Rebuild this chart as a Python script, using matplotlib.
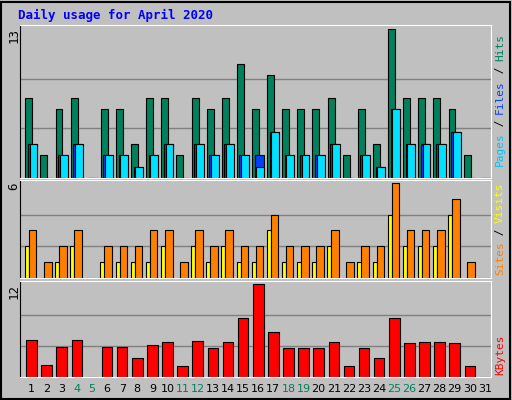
import matplotlib.pyplot as plt
import numpy as np

days = list(range(1, 32))
weekend = [4, 5, 11, 12, 18, 19, 25, 26]

hits = [7, 2, 6, 7, 0, 6, 6, 3, 7, 7, 2, 7, 6, 7, 10, 6, 9, 6, 6, 6, 7, 2, 6, 3, 13, 7, 7, 7, 6, 2, 0]
files = [3, 0, 2, 3, 0, 2, 2, 1, 2, 3, 0, 3, 2, 3, 2, 1, 4, 2, 2, 2, 3, 0, 2, 1, 6, 3, 3, 3, 4, 0, 0]
pages = [3, 0, 2, 3, 0, 2, 2, 1, 2, 3, 0, 3, 2, 3, 2, 2, 4, 2, 2, 2, 3, 0, 2, 1, 6, 3, 3, 3, 4, 0, 0]
visits = [3, 1, 2, 3, 0, 2, 2, 2, 3, 3, 1, 3, 2, 3, 2, 2, 4, 2, 2, 2, 3, 1, 2, 2, 6, 3, 3, 3, 5, 1, 0]
sites = [2, 0, 1, 2, 0, 1, 1, 1, 1, 2, 0, 2, 1, 2, 1, 1, 3, 1, 1, 1, 2, 0, 1, 1, 4, 2, 2, 2, 4, 0, 0]
kbytes = [4.75, 1.6, 3.8, 4.75, 0, 3.8, 3.8, 2.5, 4.1, 4.5, 1.45, 4.6, 3.7, 4.5, 7.65, 12, 5.8,
          3.7, 3.7, 3.7, 4.5, 1.45, 3.7, 2.4, 7.65, 4.35, 4.5, 4.5, 4.35, 1.45, 0]

W, H = 512, 400
fig = plt.figure(figsize=(W / 100, H / 100), dpi=100)
fig.patch.set_facecolor('#c0c0c0')
mono = 'DejaVu Sans Mono'
x = np.array(days)


def panel(top, bottom, ymax):
    ax = fig.add_axes([20 / W, 1 - bottom / H, 471 / W, (bottom - top) / H])
    ax.set_facecolor('#c0c0c0')
    ax.set_xlim(0.14, 31.3)
    ax.set_ylim(0, ymax * 1.03)
    ax.set_xticks([])
    ax.set_yticks([])
    for s in ax.spines.values():
        s.set_color('white')
    ax.spines['left'].set_color('black')
    for g in (ymax / 3, ymax * 2 / 3):
        ax.axhline(g, color='#808080', lw=1, zorder=0)
    fig.text(14 / W, 1 - (top + 3) / H, str(ymax), rotation=90,
             ha='center', va='top', fontsize=9, family=mono)
    return ax


def side_label(pieces, y_start):
    # pieces: (text, colour); drawn upward from y_start (pixels from top)
    pos = 0
    step = 6.6
    for txt, col in pieces:
        c = pos + len(txt) / 2
        fig.text(500 / W, 1 - (y_start - c * step) / H, txt, rotation=90, ha='center',
                 va='center', color=col, fontsize=8, family=mono)
        pos += len(txt)


ek = dict(edgecolor='black', linewidth=0.8)

ax1 = panel(25, 178, 13)
ax1.bar(x - 0.28, hits, 0.46, color='#00805c', **ek)
ax1.bar(x - 0.04, pages, 0.6, color='#0040ff', **ek)
ax1.bar(x + 0.03, files, 0.52, color='#00e0ff', **ek)
side_label([('Pages', '#00c0ff'), (' / ', 'black'), ('Files', '#0040ff'),
            (' / ', 'black'), ('Hits', '#00805c')], 166)

ax2 = panel(180, 278, 6)
ax2.bar(x - 0.4, sites, 0.27, color='#ffff00', **ek)
ax2.bar(x - 0.02, visits, 0.5, color='#ff8000', **ek)
side_label([('Sites', '#ff8000'), (' / ', 'black'), ('Visits', '#ffff00')], 275)

ax3 = panel(281, 377, 12)
ax3.bar(x - 0.1, kbytes, 0.7, color='#ff0000', **ek)
side_label([('KBytes', '#ff0000')], 375)
for d in days:
    ax3.text(d - 0.1, -0.12, str(d), transform=ax3.get_xaxis_transform(), ha='center',
             va='center', fontsize=8, color='#00805c' if d in weekend else 'black')

fig.text(18 / W, 1 - 15 / H, 'Daily usage for April 2020', color='#0000ff',
         fontsize=9, fontweight='bold', family=mono, va='center')
fig.add_artist(plt.Rectangle((1 / W, 1 / H), 509 / W, 397 / H, transform=fig.transFigure,
                             fill=False, edgecolor='black', lw=1.5))

fig.savefig('out.png', dpi=100, facecolor=fig.get_facecolor())
